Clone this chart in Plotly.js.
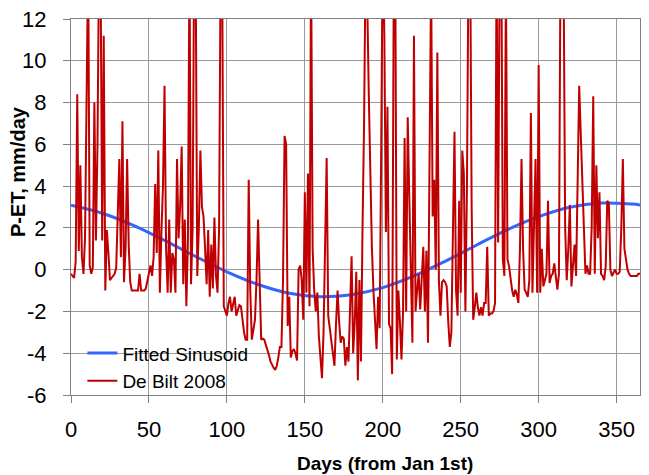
<!DOCTYPE html>
<html>
<head>
<meta charset="utf-8">
<script src="https://cdn.plot.ly/plotly-3.0.1.min.js"></script>
<style>html,body{margin:0;padding:0;background:#fff;}#chart{width:649px;height:475px;}</style>
</head>
<body>
<div id="chart"></div>
<script>
// De Bilt 2008 daily P-ET (mm/day), day 0 .. 365 (peaks above 12 are off-scale)
const deBilt2008 = [
  -0.2, -0.3, -0.4, 0.4, 8.4, 0.9, 5.0, 0.6, -0.2, 1.5,
  7.0, 15, 0.2, -0.2, 0.1, 8.0, 1.4, 6.0, 15, 14,
  1.4, 11.2, -1.0, 1.9, 0.8, -0.5, -0.4, -0.3, -0.2, 0.1,
  3.0, 5.3, 0.6, 7.1, -0.6, 1.0, 5.3, 1.2, -0.6, -1.0,
  -1.0, -1.0, -1.0, -1.0, -0.2, -1.0, -1.0, -1.0, -0.9, -0.5,
  -0.1, 0.2, -0.3, 0.6, 4.1, 0.8, 5.7, -1.1, 1.8, 4.0,
  8.8, 1.0, -1.1, 2.4, -1.1, 0.8, 0.5, -1.1, 5.3, 1.5,
  3.0, 5.9, -0.7, 2.4, -1.75, 1.4, 15, -0.7, 1.9, 15,
  14, -0.3, 2.0, 5.7, 3.0, 2.55, 1.0, -0.7, 1.9, -1.3,
  1.2, -0.9, 2.5, -0.3, -1.1, 2.0, 15, 14, -1.75, -2.0,
  -2.2, -1.6, -1.3, -2.0, -1.6, -1.3, -2.2, -1.9, -1.7, -1.75,
  -2.4, -3.0, -3.35, -3.35, 4.3, -1.0, -3.35, -2.8, -2.4, -0.5,
  2.4, -0.5, -3.35, -3.3, -3.35, -3.6, -3.8, -4.1, -4.4, -4.6,
  -4.7, -4.8, -4.6, -4.2, -3.7, -3.7, -0.5, 6.4, 6.0, -2.7,
  -1.3, -4.2, -3.9, -3.8, -4.0, -4.35, 0.0, 0.2, -0.5, -2.4,
  3.7, -1.1, 4.6, -1.75, 15, 1.0, -1.0, -2.0, -1.1, -3.2,
  -4.3, -5.2, -3.0, 0.5, 5.35, -2.2, -2.8, -3.35, -4.0, -4.6,
  -2.6, -1.0, -2.5, -3.5, -3.2, -3.3, -4.6, -3.7, -4.4, -2.0,
  0.64, -4.0, -2.5, -0.1, -5.3, -0.5, -4.4, 2.0, 7.0, 15,
  13, 8.5, 4.5, 1.1, -1.0, -2.5, -3.8, -1.3, -2.8, 5.9,
  16, 11.2, 1.8, 7.8, -2.6, -2.8, -5.0, 13, 15, -4.3,
  -1.0, -2.5, -4.3, -2.0, 6.3, -2.0, 7.3, 3.5, -0.2, -3.5,
  11.2, -2.0, -1.0, -0.2, -1.9, 0.0, 1.1, -2.0, 0.9, -3.5,
  7.0, 14, 2.55, 4.3, 0.0, 10.4, -0.5, -2.2, -0.6, -0.5,
  -0.6, -0.8, -2.5, -3.7, -3.0, 1.0, 6.6, -1.0, -2.2, 3.3,
  -1.1, 5.7, 4.6, -2.0, 4.0, 15, 16, 3.0, -2.4, -1.8,
  -1.1, -1.8, -2.2, -1.8, -2.2, -1.6, -1.6, 1.1, -2.2, -2.1,
  -2.1, -2.0, -1.6, 15, 1.3, 15, 16, 0.5, -0.3, 14,
  0.5, 0.16, -0.6, -1.0, -1.3, -0.96, -1.2, -1.6, 1.0, 5.3,
  1.0, -0.96, -1.1, -1.3, -0.5, 7.5, -1.1, 2.0, 5.3, -1.1,
  9.8, -1.1, 1.0, -0.8, -0.5, -0.2, 3.3, -0.64, -0.3, -0.2,
  0.3, -0.5, -0.96, -0.2, 15, 16, 14, 2.0, -0.5, 1.0,
  3.1, -0.8, 0.2, 1.2, -0.3, 4.0, 8.8, 6.5, 4.0, 1.5,
  -0.2, 0.2, -0.2, -0.2, 2.0, 8.3, -0.2, 5.0, 1.5, 3.7,
  -0.2, -0.3, -0.5, 0.16, 3.3, 3.2, 0.0, -0.3, -0.1, 0.0,
  -0.2, -0.2, -0.1, 2.0, 5.3, 1.0, 0.5, 0.0, -0.2, -0.3,
  -0.3, -0.3, -0.3, -0.3, -0.2, -0.2
];
const deBiltDays = deBilt2008.map((v, i) => i);

// Fitted sinusoid, values at these days
const sinDays = [0, 20, 40, 60, 80, 100, 120, 140, 160, 180, 200, 220, 240, 260, 280, 300, 320, 340, 360, 365];
const sinValues = [3.08, 2.70, 2.12, 1.40, 0.63, -0.10, -0.71, -1.13, -1.30, -1.20, -0.86, -0.30, 0.40, 1.17, 1.92, 2.54, 2.99, 3.19, 3.14, 3.10];

// Axis tick labels
const xTickVals = [0, 50, 100, 150, 200, 250, 300, 350];
const xTickText = ["0", "50", "100", "150", "200", "250", "300", "350"];
const yTickVals = [-6, -4, -2, 0, 2, 4, 6, 8, 10, 12];
const yTickText = ["-6", "-4", "-2", "0", "2", "4", "6", "8", "10", "12"];

const seriesNames = ["Fitted Sinusoid", "De Bilt 2008"];
const xTitle = "Days (from Jan 1st)";
const yTitle = "P-ET, mm/day";

const FONT = "Liberation Sans, Arial, sans-serif";
const traces = [
  {x: sinDays, y: sinValues, name: seriesNames[0], type: "scatter", mode: "lines",
   line: {color: "#3366ff", width: 3, shape: "spline"}},
  {x: deBiltDays, y: deBilt2008, name: seriesNames[1], type: "scatter", mode: "lines",
   line: {color: "#c00000", width: 2}}
];
const axisCommon = {
  showgrid: true, gridcolor: "#9a9a9a", gridwidth: 1,
  showline: true, linecolor: "#808080", linewidth: 1, mirror: true,
  ticks: "outside", ticklen: 7, tickcolor: "#808080", tickwidth: 1,
  zeroline: false, tickfont: {family: FONT, size: 22, color: "#000"}
};
const layout = {
  width: 649, height: 475,
  margin: {l: 71, r: 9, t: 19, b: 80},
  paper_bgcolor: "#fff", plot_bgcolor: "#fff",
  showlegend: true,
  legend: {x: 0.02, y: -0.014, xanchor: "left", yanchor: "bottom", bgcolor: "rgba(255,255,255,0)",
           borderwidth: 0, font: {family: FONT, size: 19, color: "#000"},
           itemwidth: 30, tracegroupgap: 0},
  // white legend box area (hides gridlines behind the legend)
  shapes: [
    {type: "rect", xref: "paper", yref: "paper", x0: 0.002, x1: 0.342, y0: 0.002, y1: 0.154,
     fillcolor: "#fff", line: {width: 0}, layer: "below"}
  ],
  xaxis: Object.assign({}, axisCommon, {range: [0, 365], tickmode: "array",
           tickvals: xTickVals, ticktext: xTickText, ticklabelstandoff: 8}),
  yaxis: Object.assign({}, axisCommon, {range: [-6, 12], tickmode: "array",
           tickvals: yTickVals, ticktext: yTickText, ticklabelstandoff: 12}),
  annotations: [
    {text: "<b>" + xTitle + "</b>", xref: "paper", yref: "paper", x: 0.552, y: -0.181,
     xanchor: "center", yanchor: "middle", showarrow: false, font: {family: FONT, size: 19, color: "#000"}},
    {text: "<b>" + yTitle + "</b>", xref: "paper", yref: "paper", x: -0.093, y: 0.593,
     xanchor: "center", yanchor: "middle", textangle: -90, showarrow: false,
     font: {family: FONT, size: 20, color: "#000"}}
  ]
};
Plotly.newPlot("chart", traces, layout, {staticPlot: true, displayModeBar: false});
</script>
</body>
</html>
